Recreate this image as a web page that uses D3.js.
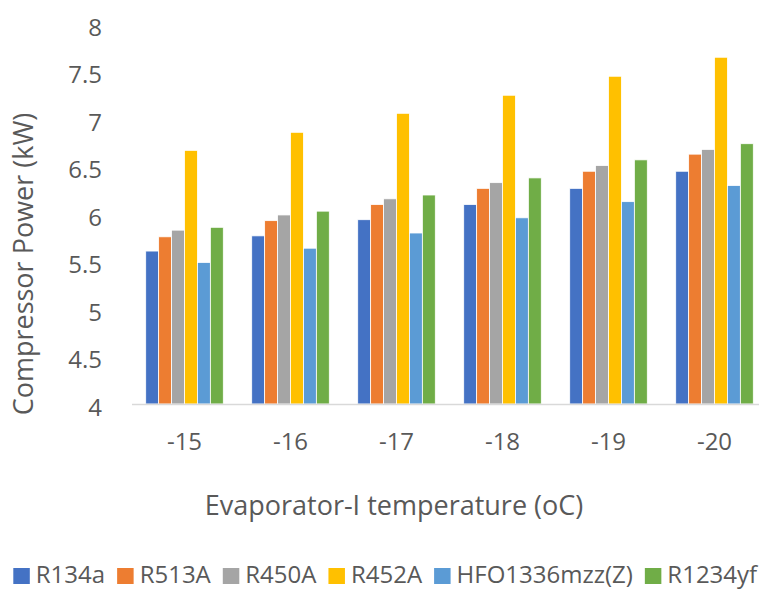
<!DOCTYPE html>
<html>
<head>
<meta charset="utf-8">
<script src="https://cdn.jsdelivr.net/npm/d3@7"></script>
<style>
  html, body { margin: 0; padding: 0; background: #fff; }
  svg { display: block; font-family: "Open Sans", sans-serif; }
</style>
</head>
<body>
<svg id="chart" width="759" height="590"></svg>
<script>
// Evaporator-I temperature categories (°C)
const categories = ["-15", "-16", "-17", "-18", "-19", "-20"];

// Refrigerants and their colours
const seriesNames = ["R134a", "R513A", "R450A", "R452A", "HFO1336mzz(Z)", "R1234yf"];
const seriesColors = ["#4472C4", "#ED7D31", "#A5A5A5", "#FFC000", "#5B9BD5", "#70AD47"];

// Compressor power (kW) per refrigerant, one value per category
const r134a   = [5.61, 5.77, 5.94, 6.10, 6.27, 6.45];
const r513a   = [5.76, 5.93, 6.10, 6.27, 6.45, 6.63];
const r450a   = [5.83, 5.99, 6.16, 6.33, 6.51, 6.68];
const r452a   = [6.67, 6.86, 7.06, 7.25, 7.45, 7.65];
const hfo1336 = [5.49, 5.64, 5.80, 5.96, 6.13, 6.30];
const r1234yf = [5.86, 6.03, 6.20, 6.38, 6.57, 6.74];

// y-axis ticks
const yTicks = [4, 4.5, 5, 5.5, 6, 6.5, 7, 7.5, 8];

const seriesValues = [r134a, r513a, r450a, r452a, hfo1336, r1234yf];

const svg = d3.select("#chart");
const textColor = "#595959";

const x0 = d3.scaleBand()
  .domain(categories)
  .range([131.5, 767.5])
  .paddingInner(0.268)
  .paddingOuter(0.134);

const x1 = d3.scaleBand()
  .domain(seriesNames)
  .range([0, x0.bandwidth()])
  .padding(0);

const y = d3.scaleLinear().domain([4, 8]).range([404, 24]);

// bars
const groups = svg.append("g").selectAll("g")
  .data(categories)
  .join("g")
  .attr("transform", c => `translate(${x0(c)},0)`);

groups.selectAll("rect")
  .data((c, ci) => seriesNames.map((s, si) => ({ s, si, v: seriesValues[si][ci] })))
  .join("rect")
  .attr("x", d => x1(d.s))
  .attr("y", d => y(d.v))
  .attr("width", x1.bandwidth())
  .attr("height", d => y(4) - y(d.v))
  .attr("fill", d => seriesColors[d.si])
  .attr("stroke", "#ffffff")
  .attr("stroke-width", 0.8);

// category axis line
svg.append("line")
  .attr("x1", 132).attr("x2", 770)
  .attr("y1", y(4) + 0.5).attr("y2", y(4) + 0.5)
  .attr("stroke", "#d9d9d9")
  .attr("stroke-width", 1.5);

// x-axis labels
const xAxis = d3.axisBottom(x0).tickSize(0).tickPadding(0);
const gx = svg.append("g").attr("transform", `translate(0,${y(4)})`).call(xAxis);
gx.select(".domain").remove();
gx.selectAll("text")
  .attr("dy", null)
  .attr("y", 45.5)
  .attr("fill", textColor)
  .style("font-size", "24px")
  .style("font-family", "'Open Sans', sans-serif");

// y-axis labels
const yAxis = d3.axisLeft(y).tickValues(yTicks).tickSize(0).tickPadding(0)
  .tickFormat(d3.format("~g"));
const gy = svg.append("g").attr("transform", "translate(102,0)").call(yAxis);
gy.select(".domain").remove();
gy.selectAll("text")
  .attr("dy", null)
  .attr("y", 11)
  .attr("fill", textColor)
  .style("font-size", "24px")
  .style("font-family", "'Open Sans', sans-serif");

// axis titles
svg.append("text")
  .attr("x", 394).attr("y", 515)
  .attr("text-anchor", "middle")
  .attr("fill", textColor)
  .style("font-size", "27px")
  .text("Evaporator-I temperature (oC)");

svg.append("text")
  .attr("transform", "translate(33,264) rotate(-90)")
  .attr("text-anchor", "middle")
  .attr("fill", textColor)
  .style("font-size", "27px")
  .text("Compressor Power (kW)");

// legend
const legend = svg.append("g");
let lx = 13.3;
seriesNames.forEach((name, i) => {
  legend.append("rect")
    .attr("x", lx).attr("y", 568)
    .attr("width", 16.5).attr("height", 16)
    .attr("fill", seriesColors[i]);
  const t = legend.append("text")
    .attr("x", lx + 22.5).attr("y", 583)
    .attr("fill", textColor)
    .style("font-size", "24px")
    .text(name);
  lx += 22.5 + t.node().getComputedTextLength() + 12;
});
</script>
</body>
</html>
